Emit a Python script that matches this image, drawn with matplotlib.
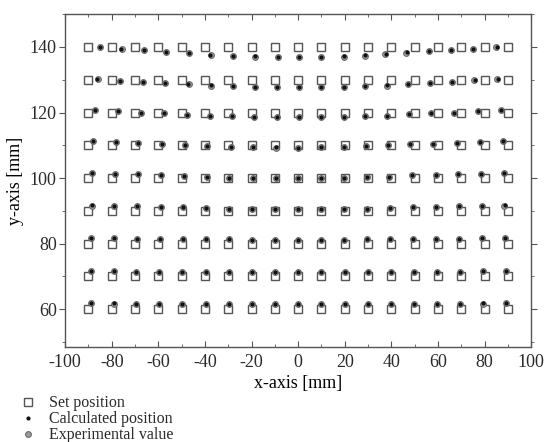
import numpy as np
import matplotlib
matplotlib.use('Agg')
import matplotlib.pyplot as plt
from matplotlib.ticker import MultipleLocator

# Pozycje zadane (siatka)
x_set = [-90, -80, -70, -60, -50, -40, -30, -20, -10, 0, 10, 20, 30, 40, 50, 60, 70, 80, 90]
y_set = [140, 130, 120, 110, 100, 90, 80, 70, 60]

# Odchyłki wartości eksperymentalnych od pozycji zadanej [mm], wiersze od y=140 do y=60
exp_dx = [
    [5.0, 4.3, 4.0, 3.5, 3.0, 2.5, 2.0, 1.5, 1.5, 0.5, 0.0, -0.5, -1.5, -2.5, -3.5, -4.0, -4.5, -5.0, -5.0],
    [4.0, 3.5, 3.5, 3.0, 3.0, 2.5, 2.0, 1.5, 1.0, 0.5, 0.0, -0.5, -1.5, -2.0, -3.0, -3.5, -4.0, -4.5, -4.5],
    [3.0, 2.5, 2.5, 2.5, 2.5, 2.0, 1.5, 1.0, 1.0, 0.5, 0.0, -0.5, -1.5, -2.0, -2.5, -3.0, -3.0, -3.0, -3.0],
    [2.0, 2.0, 1.5, 1.5, 1.5, 1.0, 1.0, 0.5, 0.5, 0.0, 0.0, -0.5, -1.0, -1.5, -2.0, -2.0, -2.0, -2.0, -2.0],
    [1.5, 1.5, 1.5, 1.0, 1.0, 1.0, 0.5, 0.5, 0.3, 0.0, 0.0, -0.3, -0.5, -1.0, -1.0, -1.0, -1.5, -1.5, -1.5],
    [1.5, 1.2, 1.0, 1.0, 0.8, 0.5, 0.5, 0.3, 0.2, 0.0, 0.0, -0.3, -0.5, -0.5, -0.8, -1.0, -1.0, -1.2, -1.5],
    [1.2, 1.0, 1.0, 0.8, 0.8, 0.5, 0.3, 0.2, 0.0, 0.0, 0.0, -0.2, -0.3, -0.5, -0.8, -0.8, -1.0, -1.0, -1.2],
    [1.0, 0.8, 0.5, 0.5, 0.3, 0.3, 0.2, 0.0, 0.0, 0.0, 0.0, 0.0, -0.2, -0.3, -0.3, -0.5, -0.5, -0.8, -1.0],
    [1.0, 0.8, 0.5, 0.5, 0.3, 0.3, 0.2, 0.0, 0.0, 0.0, 0.0, 0.0, -0.2, -0.3, -0.3, -0.5, -0.5, -0.8, -1.0],
]
exp_dy = [
    [0.0, -0.7, -1.0, -1.5, -2.0, -2.5, -2.8, -3.0, -3.0, -3.0, -3.0, -3.0, -2.7, -2.3, -1.7, -1.2, -0.8, -0.5, 0.0],
    [0.2, -0.3, -0.8, -1.0, -1.4, -1.8, -2.0, -2.2, -2.3, -2.3, -2.3, -2.2, -2.0, -1.8, -1.4, -1.0, -0.6, 0.0, 0.3],
    [0.8, 0.5, 0.0, -0.3, -0.8, -1.0, -1.2, -1.3, -1.4, -1.4, -1.4, -1.3, -1.2, -1.0, -0.6, -0.3, 0.0, 0.4, 0.8],
    [1.3, 1.1, 0.8, 0.5, 0.0, -0.3, -0.5, -0.6, -0.7, -0.7, -0.6, -0.6, -0.3, 0.0, 0.4, 0.5, 0.8, 1.1, 1.3],
    [1.5, 1.3, 1.1, 0.8, 0.5, 0.3, 0.0, 0.0, 0.0, 0.0, 0.0, 0.0, 0.2, 0.4, 0.8, 1.0, 1.1, 1.3, 1.5],
    [1.6, 1.5, 1.4, 1.3, 1.1, 0.9, 0.7, 0.6, 0.6, 0.6, 0.6, 0.6, 0.7, 0.9, 1.1, 1.3, 1.4, 1.5, 1.6],
    [1.6, 1.6, 1.5, 1.5, 1.4, 1.3, 1.3, 1.2, 1.2, 1.2, 1.2, 1.2, 1.3, 1.3, 1.4, 1.5, 1.5, 1.6, 1.6],
    [1.7, 1.6, 1.5, 1.5, 1.5, 1.5, 1.4, 1.4, 1.4, 1.4, 1.4, 1.4, 1.4, 1.5, 1.5, 1.5, 1.5, 1.6, 1.7],
    [1.8, 1.7, 1.6, 1.6, 1.6, 1.5, 1.5, 1.5, 1.5, 1.5, 1.5, 1.5, 1.5, 1.5, 1.6, 1.6, 1.7, 1.7, 1.8],
]

# Odchyłki pozycji obliczonych [mm]
calc_dx = [
    [4.8, 4.2, 4.0, 3.4, 3.0, 2.4, 2.0, 1.5, 1.4, 0.5, 0.0, -0.5, -1.4, -2.4, -3.4, -4.0, -4.4, -4.8, -4.8],
    [3.8, 3.6, 3.4, 3.0, 2.9, 2.5, 2.0, 1.4, 1.0, 0.5, 0.0, -0.5, -1.4, -2.0, -2.9, -3.4, -3.9, -4.3, -4.3],
    [2.9, 2.6, 2.4, 2.5, 2.4, 2.0, 1.5, 1.0, 0.9, 0.5, 0.0, -0.5, -1.4, -2.0, -2.4, -2.9, -3.0, -2.9, -2.9],
    [2.0, 1.9, 1.5, 1.4, 1.4, 1.0, 1.0, 0.5, 0.5, 0.0, 0.0, -0.5, -1.0, -1.4, -1.9, -2.0, -2.0, -1.9, -1.9],
    [1.5, 1.4, 1.4, 1.0, 1.0, 0.9, 0.5, 0.5, 0.3, 0.0, 0.0, -0.3, -0.5, -0.9, -1.0, -1.0, -1.4, -1.5, -1.5],
    [1.4, 1.2, 1.0, 1.0, 0.8, 0.5, 0.5, 0.3, 0.2, 0.0, 0.0, -0.3, -0.5, -0.5, -0.8, -1.0, -1.0, -1.2, -1.4],
    [1.2, 1.0, 0.9, 0.8, 0.7, 0.5, 0.3, 0.2, 0.0, 0.0, 0.0, -0.2, -0.3, -0.5, -0.7, -0.8, -0.9, -1.0, -1.2],
    [1.0, 0.8, 0.5, 0.5, 0.3, 0.3, 0.2, 0.0, 0.0, 0.0, 0.0, 0.0, -0.2, -0.3, -0.3, -0.5, -0.5, -0.8, -1.0],
    [1.0, 0.8, 0.5, 0.4, 0.3, 0.3, 0.2, 0.0, 0.0, 0.0, 0.0, 0.0, -0.2, -0.3, -0.3, -0.4, -0.5, -0.8, -1.0],
]
calc_dy = [
    [0.0, -0.6, -1.0, -1.4, -1.9, -2.4, -2.7, -2.9, -3.0, -3.0, -3.0, -2.9, -2.6, -2.2, -1.6, -1.2, -0.8, -0.5, 0.0],
    [0.2, -0.3, -0.7, -1.0, -1.3, -1.7, -2.0, -2.1, -2.2, -2.3, -2.2, -2.1, -2.0, -1.7, -1.3, -1.0, -0.6, 0.0, 0.3],
    [0.8, 0.5, 0.0, -0.3, -0.7, -1.0, -1.2, -1.3, -1.3, -1.4, -1.3, -1.3, -1.2, -1.0, -0.6, -0.3, 0.0, 0.4, 0.8],
    [1.4, 1.1, 0.8, 0.5, 0.0, -0.3, -0.5, -0.6, -0.6, -0.7, -0.6, -0.6, -0.3, 0.0, 0.4, 0.5, 0.8, 1.1, 1.4],
    [1.6, 1.4, 1.1, 0.8, 0.5, 0.3, 0.1, 0.0, 0.0, 0.0, 0.0, 0.1, 0.2, 0.4, 0.8, 1.0, 1.2, 1.4, 1.6],
    [1.7, 1.6, 1.4, 1.3, 1.1, 0.9, 0.7, 0.6, 0.6, 0.6, 0.6, 0.6, 0.7, 0.9, 1.1, 1.3, 1.4, 1.6, 1.7],
    [1.7, 1.6, 1.5, 1.5, 1.4, 1.3, 1.3, 1.2, 1.2, 1.2, 1.2, 1.2, 1.3, 1.3, 1.4, 1.5, 1.5, 1.6, 1.7],
    [1.8, 1.6, 1.5, 1.5, 1.5, 1.5, 1.4, 1.4, 1.4, 1.4, 1.4, 1.4, 1.4, 1.5, 1.5, 1.5, 1.5, 1.6, 1.8],
    [1.9, 1.8, 1.6, 1.6, 1.6, 1.5, 1.5, 1.5, 1.5, 1.5, 1.5, 1.5, 1.5, 1.5, 1.6, 1.6, 1.7, 1.8, 1.9],
]

plt.rcParams['font.family'] = ['Liberation Serif', 'DejaVu Serif']
plt.rcParams['text.color'] = '#2a2a2a'
plt.rcParams['axes.unicode_minus'] = False

X, Y = np.meshgrid(x_set, y_set)
x_exp = X + np.array(exp_dx)
y_exp = Y + np.array(exp_dy)
x_calc = X + np.array(calc_dx)
y_calc = Y + np.array(calc_dy)

fig = plt.figure(figsize=(5.47, 4.42), dpi=100)
ax = fig.add_axes([0.119, 0.215, 0.852, 0.753])

sq, = ax.plot(X.ravel(), Y.ravel(), 's', ms=6.4, mfc='none', mec='#555555', mew=1.0,
              linestyle='none', label='Set position')
ex, = ax.plot(x_exp.ravel(), y_exp.ravel(), 'o', ms=4.2, mfc='#9a9a9a', mec='#666666', mew=0.7,
              linestyle='none', label='Experimental value')
ca, = ax.plot(x_calc.ravel(), y_calc.ravel(), 'o', ms=2.0, mfc='#111111', mec='#111111',
              linestyle='none', label='Calculated position')

ax.set_xlim(-100, 100)
ax.set_ylim(48.5, 150)
ax.xaxis.set_major_locator(MultipleLocator(20))
ax.xaxis.set_minor_locator(MultipleLocator(10))
ax.yaxis.set_major_locator(MultipleLocator(20))
ax.yaxis.set_minor_locator(MultipleLocator(10))
ax.set_yticks([60, 80, 100, 120, 140])

for s in ax.spines.values():
    s.set_color('#555555')
    s.set_linewidth(1.0)

ax.tick_params(axis='x', which='both', direction='in', top=True, bottom=True,
               color='#555555', labelsize=13, labelcolor='#2a2a2a', pad=5)
ax.tick_params(axis='x', which='major', length=4)
ax.tick_params(axis='x', which='minor', length=2)
ax.tick_params(axis='y', which='both', direction='out', left=True, right=True,
               color='#555555', labelsize=13, labelcolor='#2a2a2a', pad=2)
ax.tick_params(axis='y', which='major', length=4)
ax.tick_params(axis='y', which='minor', length=2)

ax.set_xlabel('x-axis [mm]', fontsize=13, labelpad=3)
ax.set_ylabel('y-axis [mm]', fontsize=13, labelpad=4)

fig.legend([sq, ca, ex], ['Set position', 'Calculated position', 'Experimental value'],
           loc='upper left', bbox_to_anchor=(0.025, 0.12), frameon=False, fontsize=11.5,
           handlelength=1.0, handletextpad=0.8, labelspacing=0.0, borderaxespad=0)

fig.savefig('out.png', dpi=100)
